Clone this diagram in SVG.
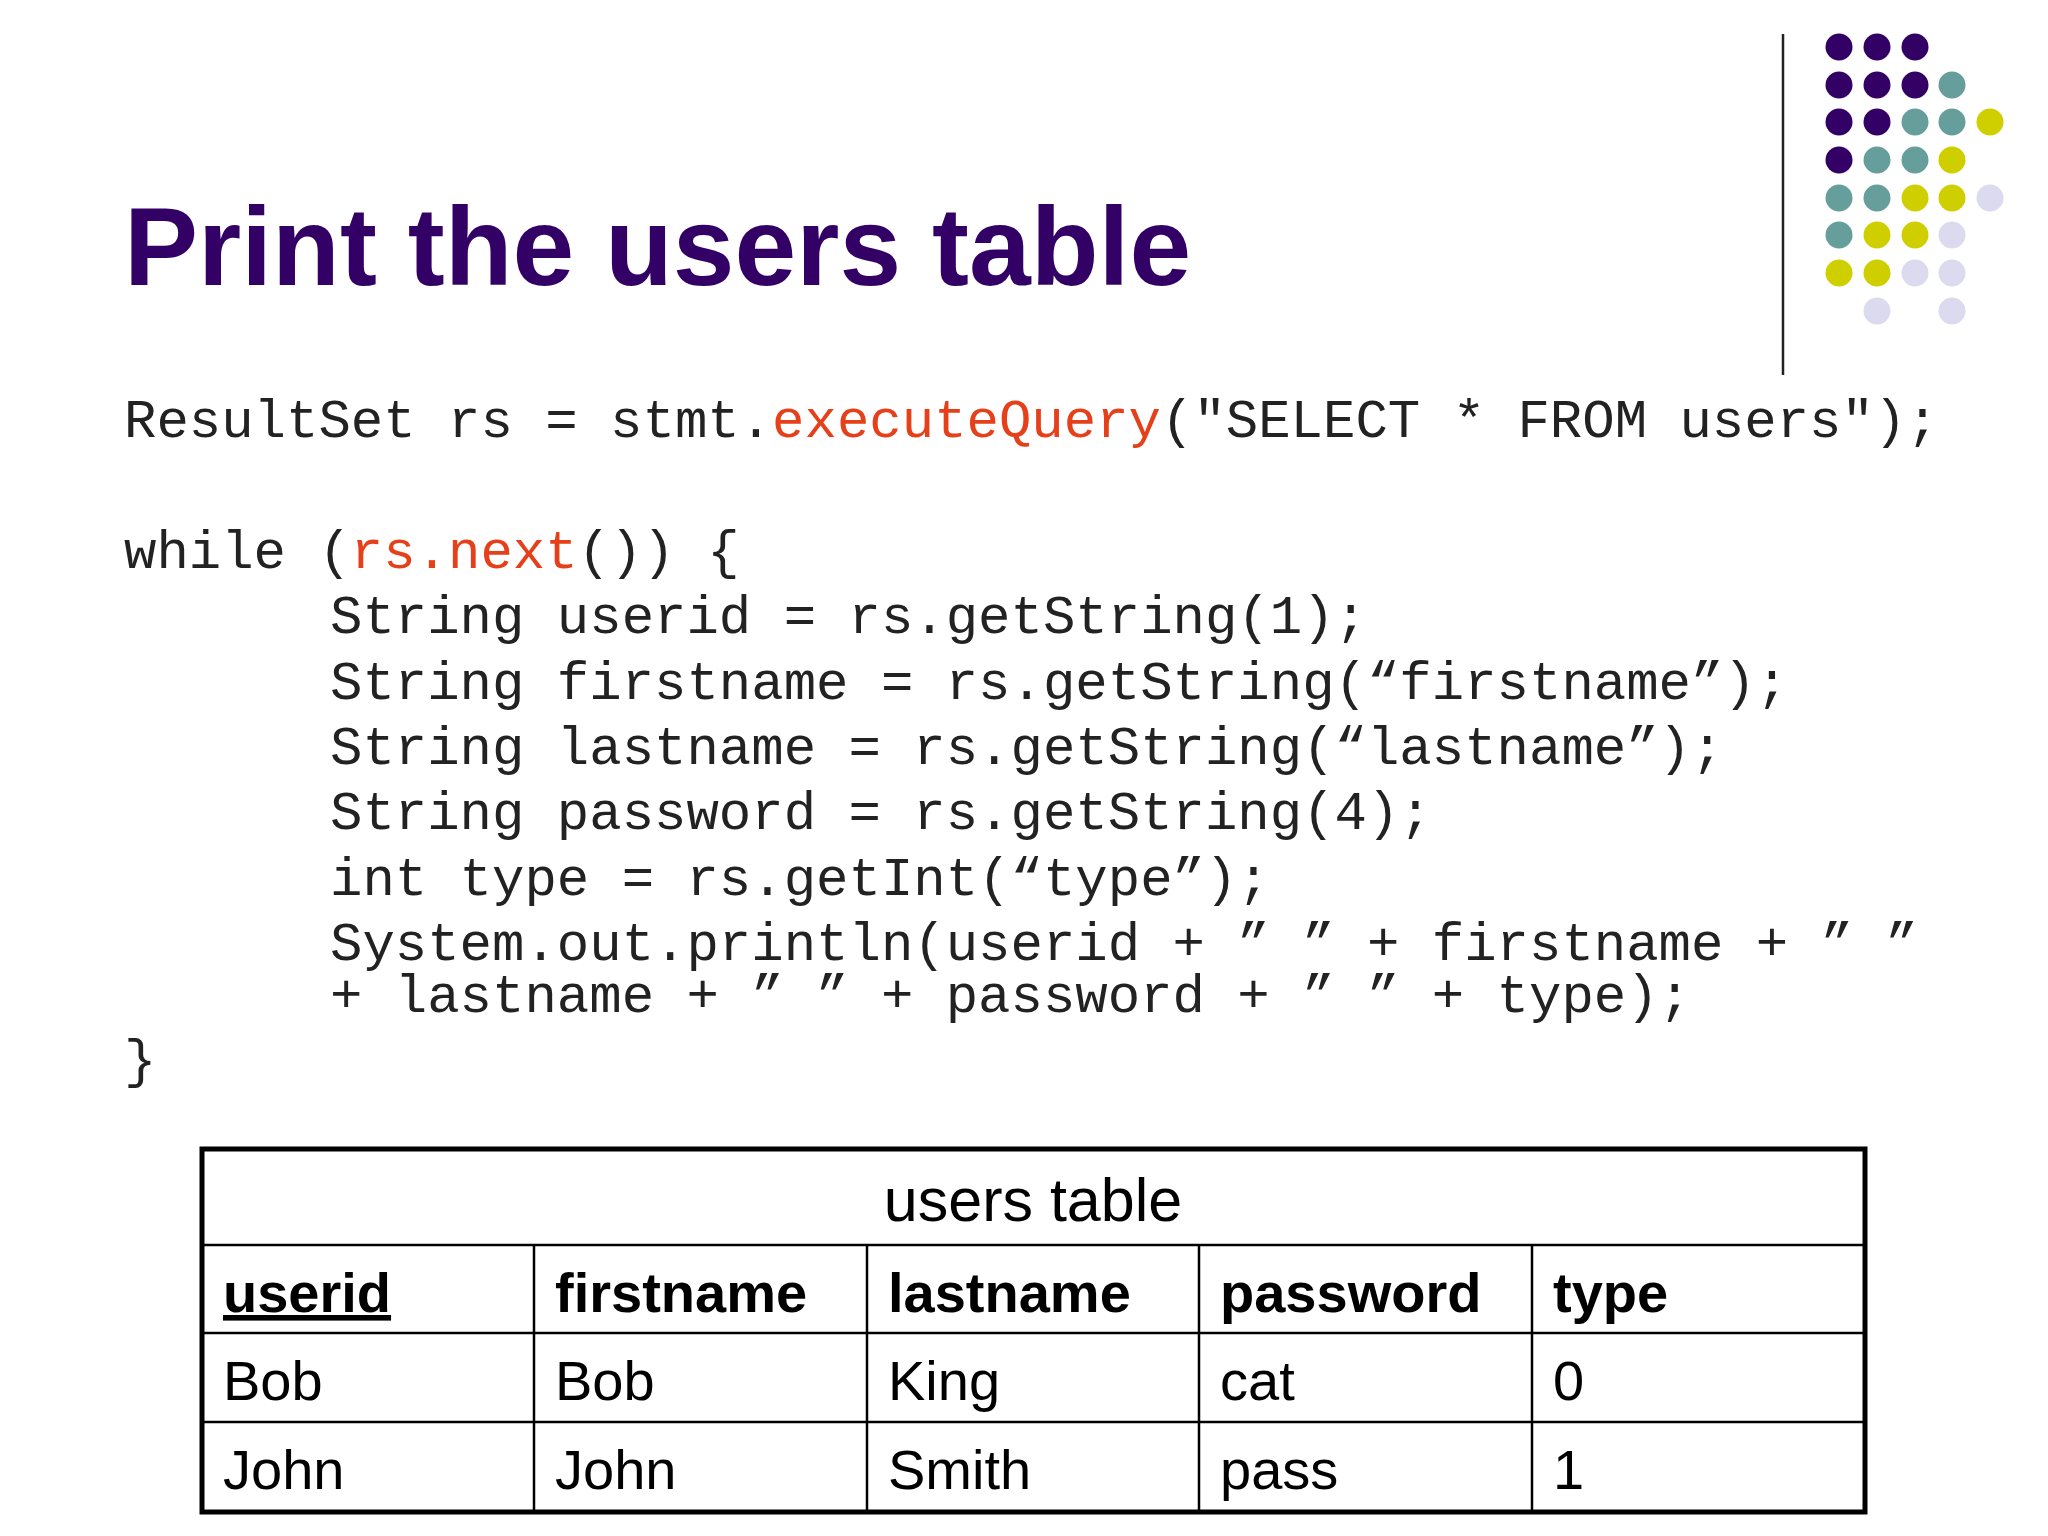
<svg xmlns="http://www.w3.org/2000/svg" width="2048" height="1536" viewBox="0 0 2048 1536">
<style>
.code{font-family:"Liberation Mono","Courier New",monospace;font-size:54px;fill:#222;white-space:pre}
.red{fill:#e5401a}
.t{font-family:"Liberation Sans",Arial,sans-serif;font-size:56px;fill:#000}
.b{font-weight:bold}
.p{fill:#330066}.g{fill:#669e9b}.y{fill:#cfcf00}.l{fill:#dcdaee}
</style>
<rect width="2048" height="1536" fill="#fff"/>
<g id="decoration">
<line x1="1783" y1="34" x2="1783" y2="375" stroke="#222" stroke-width="2.5"/>
<g>
<circle class="p" cx="1839" cy="47" r="13.5"/><circle class="p" cx="1877" cy="47" r="13.5"/><circle class="p" cx="1915" cy="47" r="13.5"/>
<circle class="p" cx="1839" cy="85" r="13.5"/><circle class="p" cx="1877" cy="85" r="13.5"/><circle class="p" cx="1915" cy="85" r="13.5"/><circle class="g" cx="1952" cy="85" r="13.5"/>
<circle class="p" cx="1839" cy="122" r="13.5"/><circle class="p" cx="1877" cy="122" r="13.5"/><circle class="g" cx="1915" cy="122" r="13.5"/><circle class="g" cx="1952" cy="122" r="13.5"/><circle class="y" cx="1990" cy="122" r="13.5"/>
<circle class="p" cx="1839" cy="160" r="13.5"/><circle class="g" cx="1877" cy="160" r="13.5"/><circle class="g" cx="1915" cy="160" r="13.5"/><circle class="y" cx="1952" cy="160" r="13.5"/>
<circle class="g" cx="1839" cy="198" r="13.5"/><circle class="g" cx="1877" cy="198" r="13.5"/><circle class="y" cx="1915" cy="198" r="13.5"/><circle class="y" cx="1952" cy="198" r="13.5"/><circle class="l" cx="1990" cy="198" r="13.5"/>
<circle class="g" cx="1839" cy="235" r="13.5"/><circle class="y" cx="1877" cy="235" r="13.5"/><circle class="y" cx="1915" cy="235" r="13.5"/><circle class="l" cx="1952" cy="235" r="13.5"/>
<circle class="y" cx="1839" cy="273" r="13.5"/><circle class="y" cx="1877" cy="273" r="13.5"/><circle class="l" cx="1915" cy="273" r="13.5"/><circle class="l" cx="1952" cy="273" r="13.5"/>
<circle class="l" cx="1877" cy="311" r="13.5"/><circle class="l" cx="1952" cy="311" r="13.5"/>
</g>
</g>
<g id="title"><text x="124" y="285" font-family="Liberation Sans,Arial,sans-serif" font-weight="bold" font-size="111" fill="#330066">Print the users table</text></g>
<g id="code">
<text class="code" x="124" y="437">ResultSet rs = stmt.<tspan class="red">executeQuery</tspan>("SELECT * FROM users");</text>
<text class="code" x="124" y="568">while (<tspan class="red">rs.next</tspan>()) {</text>
<text class="code" x="330" y="633">String userid = rs.getString(1);</text>
<text class="code" x="330" y="699">String firstname = rs.getString(“firstname”);</text>
<text class="code" x="330" y="764">String lastname = rs.getString(“lastname”);</text>
<text class="code" x="330" y="829">String password = rs.getString(4);</text>
<text class="code" x="330" y="895">int type = rs.getInt(“type”);</text>
<text class="code" x="330" y="960">System.out.println(userid + ” ” + firstname + ” ”</text>
<text class="code" x="330" y="1012">+ lastname + ” ” + password + ” ” + type);</text>
<text class="code" x="124" y="1077">}</text>
</g>
<g id="table">
<rect x="202" y="1149" width="1663" height="363" fill="none" stroke="#000" stroke-width="5"/>
<g stroke="#000" stroke-width="2.5">
<line x1="202" y1="1245" x2="1865" y2="1245"/><line x1="202" y1="1333" x2="1865" y2="1333"/><line x1="202" y1="1422" x2="1865" y2="1422"/>
<line x1="534" y1="1245" x2="534" y2="1512"/><line x1="867" y1="1245" x2="867" y2="1512"/><line x1="1199" y1="1245" x2="1199" y2="1512"/><line x1="1532" y1="1245" x2="1532" y2="1512"/>
</g>
<text class="t" x="1033" y="1221" text-anchor="middle" style="font-size:61px">users table</text>
<text class="t b" x="223" y="1312" text-decoration="underline">userid</text>
<text class="t b" x="555" y="1312">firstname</text>
<text class="t b" x="888" y="1312">lastname</text>
<text class="t b" x="1220" y="1312">password</text>
<text class="t b" x="1553" y="1312">type</text>
<text class="t" x="223" y="1400">Bob</text><text class="t" x="555" y="1400">Bob</text><text class="t" x="888" y="1400">King</text><text class="t" x="1220" y="1400">cat</text><text class="t" x="1553" y="1400">0</text>
<text class="t" x="223" y="1489">John</text><text class="t" x="555" y="1489">John</text><text class="t" x="888" y="1489">Smith</text><text class="t" x="1220" y="1489">pass</text><text class="t" x="1553" y="1489">1</text>
</g>
</svg>
